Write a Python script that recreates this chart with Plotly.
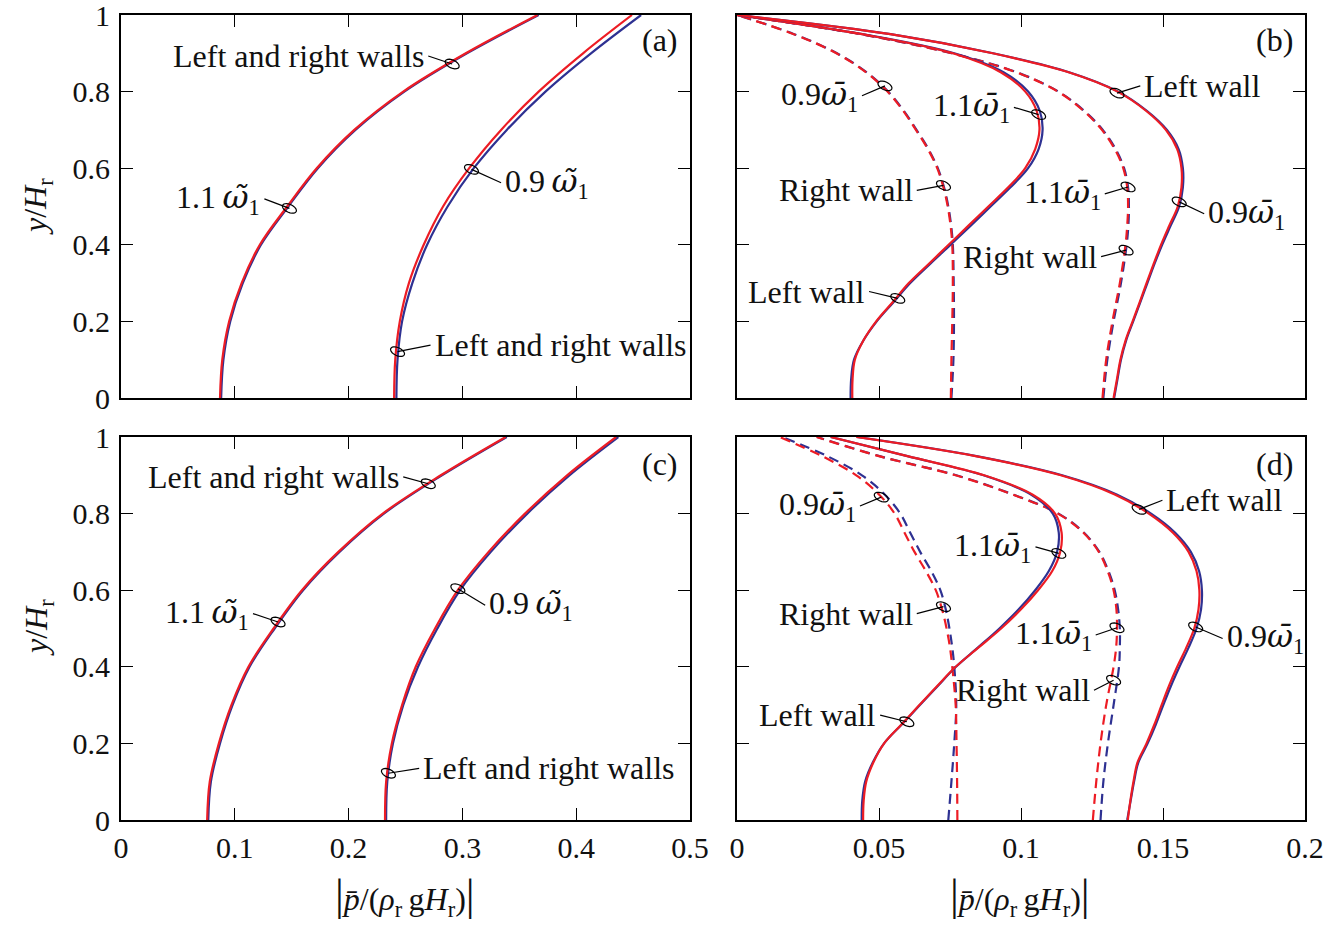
import math
import plotly.graph_objects as go

# ---------------- data ----------------
# panel (a)
ya = [0, 0.1, 0.2, 0.3, 0.4, 0.5, 0.6, 0.7, 0.8, 0.9, 1.0]
a_11_red = [0.087, 0.089, 0.095, 0.106, 0.122, 0.146, 0.172, 0.205, 0.248, 0.303, 0.366]
a_11_blue = [0.088, 0.090, 0.096, 0.107, 0.123, 0.147, 0.173, 0.206, 0.249, 0.304, 0.367]
a_09_red = [0.240, 0.241, 0.245, 0.253, 0.266, 0.283, 0.306, 0.334, 0.367, 0.406, 0.449]
a_09_blue = [0.242, 0.243, 0.247, 0.256, 0.269, 0.287, 0.310, 0.339, 0.373, 0.413, 0.457]

# panel (c)
yc = [0, 0.1, 0.2, 0.3, 0.4, 0.5, 0.6, 0.7, 0.8, 0.9, 1.0]
c_11_red = [0.0757, 0.078, 0.086, 0.097, 0.112, 0.134, 0.159, 0.191, 0.230, 0.281, 0.338]
c_11_blue = [0.0767, 0.079, 0.087, 0.098, 0.113, 0.135, 0.160, 0.192, 0.231, 0.282, 0.339]
c_09_red = [0.232, 0.233, 0.238, 0.247, 0.259, 0.276, 0.296, 0.323, 0.355, 0.392, 0.435]
c_09_blue = [0.233, 0.234, 0.239, 0.248, 0.261, 0.278, 0.298, 0.325, 0.357, 0.394, 0.437]

# panel (b)
yb_solid = [0, 0.05, 0.1, 0.15, 0.2, 0.25, 0.3, 0.35, 0.4, 0.45, 0.5, 0.55, 0.6, 0.65,
            0.7, 0.75, 0.8, 0.85, 0.9, 0.95, 1.0]
b_L11_red = [0.0406, 0.0407, 0.0415, 0.0445, 0.0490, 0.0548, 0.0605, 0.0675, 0.0745, 0.0815,
             0.0885, 0.0955, 0.1015, 0.1050, 0.1065, 0.1055, 0.1015, 0.0930, 0.0760, 0.0440, 0.0]
b_L11_blue = [0.0400, 0.0402, 0.0412, 0.0445, 0.0492, 0.0551, 0.0610, 0.0680, 0.0752, 0.0823,
              0.0893, 0.0963, 0.1025, 0.1062, 0.1076, 0.1066, 0.1025, 0.0940, 0.0765, 0.0442, 0.0]
b_L09_red = [0.1326, 0.1338, 0.1350, 0.1368, 0.1393, 0.1418, 0.1442, 0.1467, 0.1493, 0.1522,
             0.1552, 0.1565, 0.1565, 0.1550, 0.1510, 0.1440, 0.1340, 0.1170, 0.0900, 0.0540, 0.0]
b_L09_blue = [0.1328, 0.1340, 0.1352, 0.1370, 0.1395, 0.1420, 0.1445, 0.1470, 0.1497, 0.1527,
              0.1557, 0.1570, 0.1570, 0.1555, 0.1514, 0.1443, 0.1342, 0.1172, 0.0902, 0.0541, 0.0]
yb_dash = [0, 0.1, 0.2, 0.3, 0.4, 0.45, 0.5, 0.55, 0.6, 0.65, 0.7, 0.75, 0.8, 0.85, 0.9, 0.95, 1.0]
b_R09_red = [0.0753, 0.0755, 0.0758, 0.0760, 0.0758, 0.0752, 0.0742, 0.0727, 0.0705, 0.0672,
             0.0630, 0.0585, 0.0530, 0.0455, 0.0350, 0.0200, 0.0]
b_R09_blue = [0.0755, 0.0762, 0.0764, 0.0763, 0.0760, 0.0754, 0.0744, 0.0729, 0.0707, 0.0674,
              0.0632, 0.0587, 0.0532, 0.0457, 0.0352, 0.0201, 0.0]
b_R11_red = [0.1287, 0.1300, 0.1322, 0.1348, 0.1368, 0.1374, 0.1377, 0.1374, 0.1360, 0.1330,
             0.1285, 0.1220, 0.1130, 0.0985, 0.0755, 0.0435, 0.0]
b_R11_blue = [0.1290, 0.1304, 0.1326, 0.1352, 0.1372, 0.1378, 0.1380, 0.1377, 0.1363, 0.1333,
              0.1288, 0.1222, 0.1132, 0.0987, 0.0757, 0.0436, 0.0]

# panel (d)
yd_solid = yb_solid
d_L11_red = [0.0444, 0.0446, 0.0455, 0.0480, 0.0518, 0.0580, 0.0642, 0.0705, 0.0770, 0.0850,
             0.0930, 0.1000, 0.1060, 0.1110, 0.1138, 0.1143, 0.1120, 0.1040, 0.0870, 0.0600, 0.0330]
d_L11_blue = [0.0439, 0.0441, 0.0451, 0.0478, 0.0518, 0.0581, 0.0644, 0.0707, 0.0771, 0.0848,
              0.0924, 0.0992, 0.1050, 0.1098, 0.1127, 0.1133, 0.1112, 0.1035, 0.0868, 0.0600, 0.0330]
d_L09_red = [0.1376, 0.1385, 0.1396, 0.1410, 0.1442, 0.1470, 0.1495, 0.1521, 0.1550, 0.1582,
             0.1610, 0.1625, 0.1628, 0.1618, 0.1590, 0.1535, 0.1450, 0.1330, 0.1140, 0.0840, 0.0420]
d_L09_blue = [0.1374, 0.1386, 0.1398, 0.1413, 0.1446, 0.1475, 0.1501, 0.1528, 0.1558, 0.1590,
              0.1618, 0.1634, 0.1637, 0.1627, 0.1598, 0.1543, 0.1458, 0.1337, 0.1145, 0.0843, 0.0422]
yd_dash = yb_dash
d_R09_red = [0.0776, 0.0775, 0.0773, 0.0770, 0.0758, 0.0750, 0.0738, 0.0722, 0.0700, 0.0665,
             0.0625, 0.0590, 0.0555, 0.0500, 0.0420, 0.0300, 0.0150]
d_R09_blue = [0.0744, 0.0755, 0.0765, 0.0772, 0.0765, 0.0758, 0.0748, 0.0735, 0.0716, 0.0684,
              0.0645, 0.0610, 0.0575, 0.0520, 0.0440, 0.0318, 0.0160]
d_R11_red = [0.1253, 0.1265, 0.1280, 0.1300, 0.1326, 0.1335, 0.1338, 0.1336, 0.1326, 0.1305,
             0.1274, 0.1220, 0.1130, 0.0970, 0.0770, 0.0500, 0.0280]
d_R11_blue = [0.1280, 0.1290, 0.1306, 0.1326, 0.1345, 0.1348, 0.1348, 0.1342, 0.1330, 0.1308,
              0.1276, 0.1222, 0.1132, 0.0972, 0.0772, 0.0502, 0.0282]

left_ticks = [0, 0.1, 0.2, 0.3, 0.4, 0.5]
left_ticktext = ["0", "0.1", "0.2", "0.3", "0.4", "0.5"]
right_ticks = [0, 0.05, 0.1, 0.15, 0.2]
right_ticktext = ["0", "0.05", "0.1", "0.15", "0.2"]
y_ticks = [0, 0.2, 0.4, 0.6, 0.8, 1]
y_ticktext = ["0", "0.2", "0.4", "0.6", "0.8", "1"]

OMT = '<span style="font-family:DejaVu Serif"><i>\u03c9\u0303</i></span>'
OMB = '<span style="font-family:DejaVu Serif"><i>\u03c9\u0304</i></span>'
W11t = "1.1\u2009" + OMT + "<sub>1</sub>"
W09t = "0.9\u2009" + OMT + "<sub>1</sub>"
W11b = "1.1" + OMB + "<sub>1</sub>"
W09b = "0.9" + OMB + "<sub>1</sub>"
LR = "Left and right walls"
LW = "Left wall"
RW = "Right wall"

# (panel, text, text_x, text_y, side, loop_x, loop_y)
labels = [
    (1, LR, 0.270, 0.893, "right", 0.291, 0.872),
    (1, W11t, 0.126, 0.520, "right", 0.148, 0.495),
    (1, W09t, 0.334, 0.562, "left", 0.308, 0.597),
    (1, LR, 0.272, 0.138, "left", 0.243, 0.121),
    (2, W09b, 0.0440, 0.789, "right", 0.0521, 0.815),
    (2, W11b, 0.0975, 0.759, "right", 0.1062, 0.740),
    (2, LW, 0.1420, 0.815, "left", 0.1338, 0.796),
    (2, RW, 0.0633, 0.542, "right", 0.0727, 0.555),
    (2, W11b, 0.1295, 0.533, "right", 0.1377, 0.551),
    (2, W09b, 0.1645, 0.481, "left", 0.1557, 0.512),
    (2, RW, 0.1282, 0.369, "right", 0.1370, 0.386),
    (2, LW, 0.0465, 0.278, "right", 0.0566, 0.260),
    (3, LR, 0.248, 0.896, "right", 0.270, 0.878),
    (3, W11t, 0.116, 0.539, "right", 0.138, 0.517),
    (3, W09t, 0.320, 0.561, "left", 0.296, 0.604),
    (3, LR, 0.262, 0.135, "left", 0.235, 0.122),
    (4, W09b, 0.0433, 0.820, "right", 0.0508, 0.843),
    (4, W11b, 0.1051, 0.713, "right", 0.1133, 0.696),
    (4, LW, 0.1498, 0.835, "left", 0.1416, 0.811),
    (4, RW, 0.0633, 0.539, "right", 0.0727, 0.557),
    (4, W11b, 0.1263, 0.483, "right", 0.1338, 0.502),
    (4, W09b, 0.1710, 0.474, "left", 0.1615, 0.504),
    (4, RW, 0.1257, 0.339, "right", 0.1326, 0.365),
    (4, LW, 0.0504, 0.274, "right", 0.0598, 0.2565),
]
panel_tags = [(1, "(a)", 0.491, 0.935), (2, "(b)", 0.1965, 0.935),
              (3, "(c)", 0.491, 0.930), (4, "(d)", 0.1965, 0.930)]

# ---------------- figure ----------------
RED = "#ED1C24"
BLUE = "#2E3192"
FONT = "Liberation Serif, Times New Roman, serif"
LW_ = 2.2
DASH = "10px,6px"

fig = go.Figure()


def add_pair(xb, xr, y, ax, dash="solid"):
    xa = "x" if ax == 1 else f"x{ax}"
    yax = "y" if ax == 1 else f"y{ax}"
    fig.add_trace(go.Scatter(x=xb, y=y, xaxis=xa, yaxis=yax, mode="lines",
                             line=dict(color=BLUE, width=LW_, dash=dash, shape="spline", smoothing=1.0),
                             showlegend=False, hoverinfo="skip"))
    fig.add_trace(go.Scatter(x=xr, y=y, xaxis=xa, yaxis=yax, mode="lines",
                             line=dict(color=RED, width=LW_, dash=dash, shape="spline", smoothing=1.0),
                             showlegend=False, hoverinfo="skip"))


add_pair(a_11_blue, a_11_red, ya, 1)
add_pair(a_09_blue, a_09_red, ya, 1)
add_pair(b_R09_blue, b_R09_red, yb_dash, 2, DASH)
add_pair(b_R11_blue, b_R11_red, yb_dash, 2, DASH)
add_pair(b_L11_blue, b_L11_red, yb_solid, 2)
add_pair(b_L09_blue, b_L09_red, yb_solid, 2)
add_pair(c_11_blue, c_11_red, yc, 3)
add_pair(c_09_blue, c_09_red, yc, 3)
add_pair(d_R09_blue, d_R09_red, yd_dash, 4, DASH)
add_pair(d_R11_blue, d_R11_red, yd_dash, 4, DASH)
add_pair(d_L11_blue, d_L11_red, yd_solid, 4)
add_pair(d_L09_blue, d_L09_red, yd_solid, 4)

W, H = 1344, 928
xdom_left = [121 / W, 690 / W]
xdom_right = [737 / W, 1305 / W]
ydom_top = [1 - 398 / H, 1 - 15 / H]
ydom_bot = [1 - 820 / H, 1 - 437 / H]

tickfont = dict(family=FONT, size=30, color="#111")


def xax(dom, rng, tv, tt, show, anchor):
    return dict(domain=dom, range=rng, tickvals=tv, ticktext=tt, showticklabels=show,
                ticks="inside", ticklen=12, tickwidth=1.3, tickcolor="black",
                showline=True, linecolor="black", linewidth=2, mirror="allticks",
                showgrid=False, zeroline=False, anchor=anchor, tickfont=tickfont,
                ticklabelstandoff=0, automargin=False, ticklabeloverflow="allow")


def yax(dom, show, anchor):
    return dict(domain=dom, range=[0, 1], tickvals=y_ticks, ticktext=y_ticktext, showticklabels=show,
                ticks="inside", ticklen=12, tickwidth=1.3, tickcolor="black",
                showline=True, linecolor="black", linewidth=2, mirror="allticks",
                showgrid=False, zeroline=False, anchor=anchor, tickfont=tickfont,
                ticklabelstandoff=3, automargin=False, ticklabeloverflow="allow")


layout = dict(
    width=W, height=H, margin=dict(l=0, r=0, t=0, b=0, autoexpand=False),
    paper_bgcolor="white", plot_bgcolor="white",
    xaxis=xax(xdom_left, [0, 0.5], left_ticks, left_ticktext, False, "y"),
    yaxis=yax(ydom_top, True, "x"),
    xaxis2=xax(xdom_right, [0, 0.2], right_ticks, right_ticktext, False, "y2"),
    yaxis2=yax(ydom_top, False, "x2"),
    xaxis3=xax(xdom_left, [0, 0.5], left_ticks, left_ticktext, True, "y3"),
    yaxis3=yax(ydom_bot, True, "x3"),
    xaxis4=xax(xdom_right, [0, 0.2], right_ticks, right_ticktext, True, "y4"),
    yaxis4=yax(ydom_bot, False, "x4"),
)
fig.update_layout(**layout)


def loop_path(a=7.5, b=4.0, rot_deg=-25, n=20):
    r = math.radians(rot_deg)
    pts = []
    for k in range(n):
        t = 2 * math.pi * k / n
        px = a * math.cos(t)
        py = b * math.sin(t)
        pts.append((px * math.cos(r) - py * math.sin(r), px * math.sin(r) + py * math.cos(r)))
    return "M " + " L ".join(f"{x:.2f},{y:.2f}" for x, y in pts) + " Z"


LOOP = loop_path()

annfont = dict(family=FONT, size=32, color="#111")
annotations = []
shapes = []
for p, txt, tx, ty, side, lx, ly in labels:
    xr = "x" if p == 1 else f"x{p}"
    yr = "y" if p == 1 else f"y{p}"
    annotations.append(dict(x=tx, y=ty, xref=xr, yref=yr, text=txt, showarrow=False,
                            xanchor=side, yanchor="middle", font=annfont,
                            xshift=(-2 if side == "right" else 2)))
    shapes.append(dict(type="line", xref=xr, yref=yr, x0=tx, y0=ty, x1=lx, y1=ly,
                       line=dict(color="black", width=1.2)))
    shapes.append(dict(type="path", xref=xr, yref=yr, xsizemode="pixel", ysizemode="pixel",
                       xanchor=lx, yanchor=ly, path=LOOP,
                       line=dict(color="black", width=1.2)))

for p, txt, tx, ty in panel_tags:
    xr = "x" if p == 1 else f"x{p}"
    yr = "y" if p == 1 else f"y{p}"
    annotations.append(dict(x=tx, y=ty, xref=xr, yref=yr, text=txt, showarrow=False,
                            xanchor="right", yanchor="middle", font=annfont))

ytitle = "<i>y</i>/<i>H</i><sub>r</sub>"
for yc_ in [1 - 207 / H, 1 - 628 / H]:
    annotations.append(dict(x=38 / W, y=yc_, xref="paper", yref="paper", text=ytitle,
                            textangle=-90, showarrow=False, font=dict(family=FONT, size=32, color="#111"),
                            xanchor="center", yanchor="middle"))

xtitle = ('<span style="font-size:44px">|</span><i>p\u0304</i>/(<i>\u03c1</i><sub>r</sub>\u2009g<i>H</i>'
          '<sub>r</sub>)<span style="font-size:44px">|</span>')
for xc_ in [405 / W, 1020 / W]:
    annotations.append(dict(x=xc_, y=1 - 896 / H, xref="paper", yref="paper", text=xtitle,
                            showarrow=False, font=dict(family=FONT, size=32, color="#111"),
                            xanchor="center", yanchor="middle"))

fig.update_layout(annotations=annotations, shapes=shapes)
fig.write_html("out.html", config={"displayModeBar": False},
               post_script="document.body.style.margin='0px';document.body.style.overflow='hidden';")
